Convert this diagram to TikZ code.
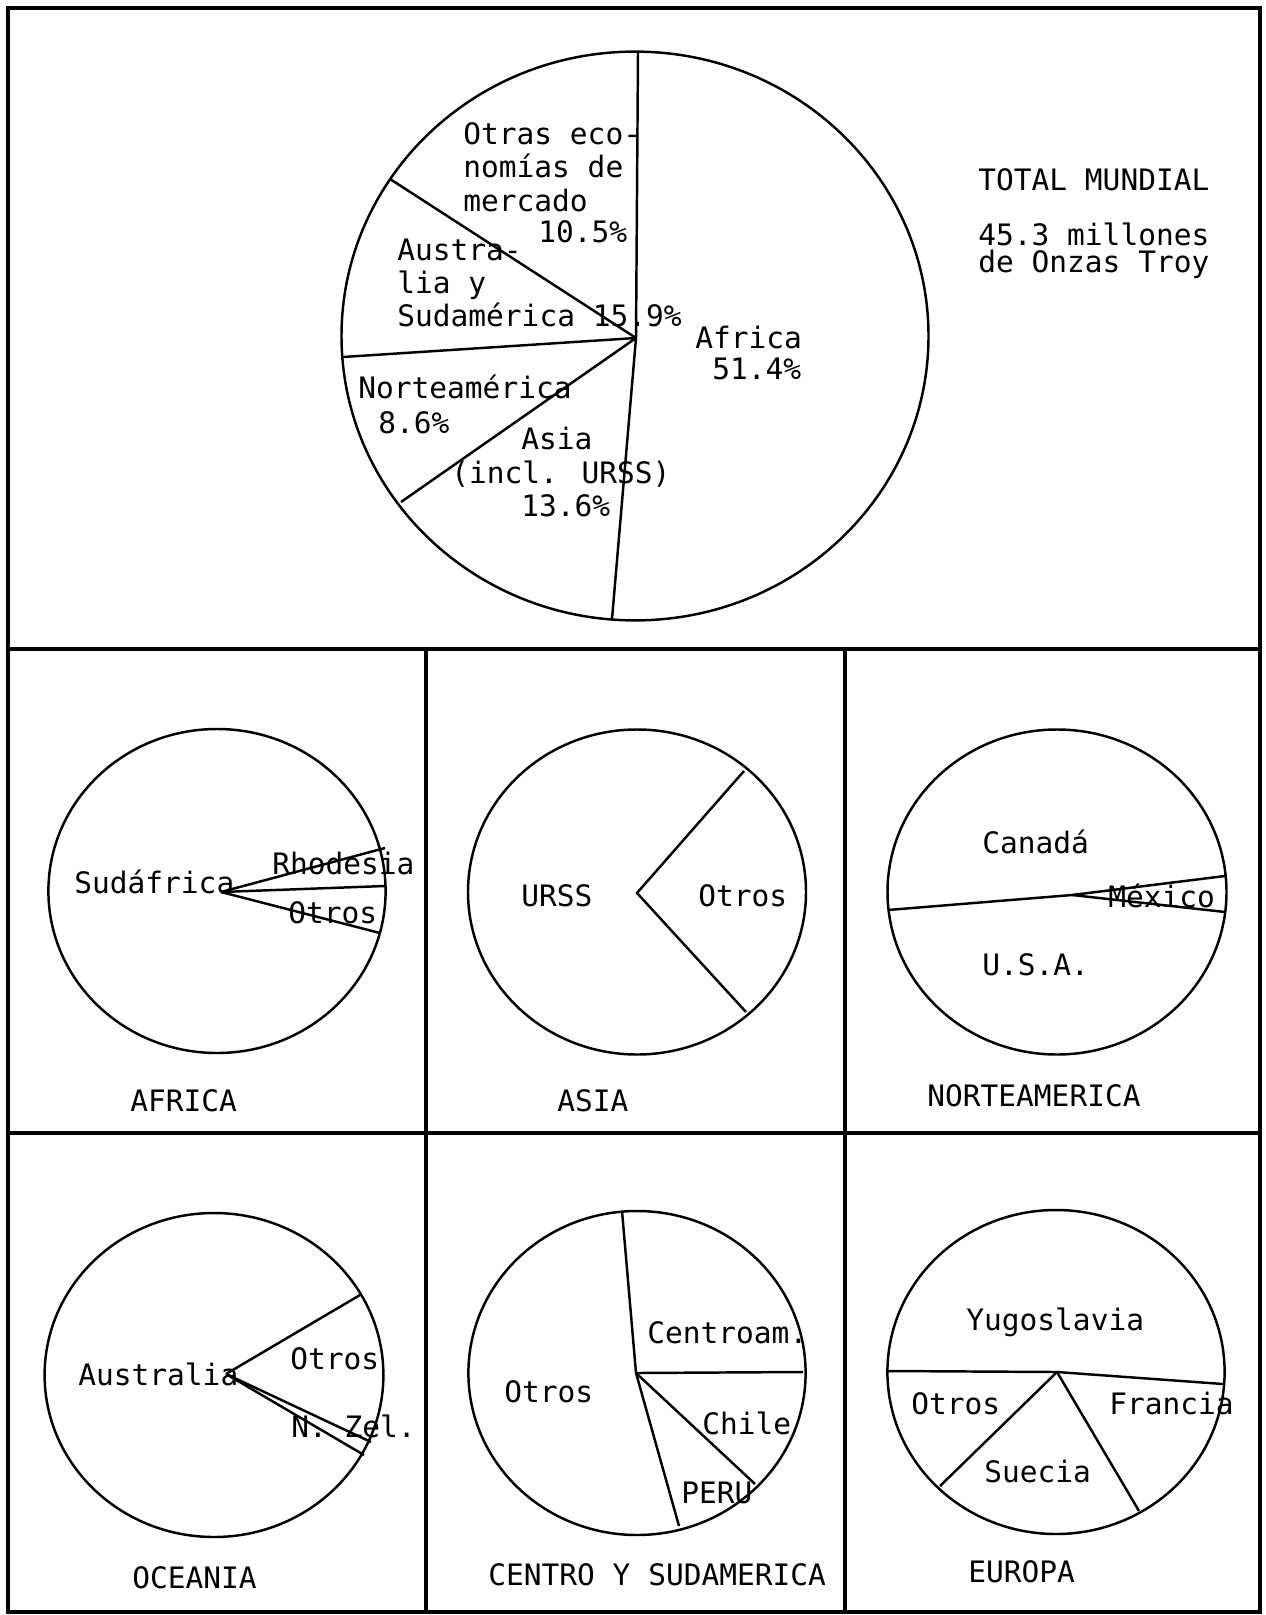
\documentclass[tikz,border=0pt]{standalone}
\usepackage{fontspec}
\setmainfont{DejaVu Sans Mono}
\usetikzlibrary{positioning}

\tikzset{
  frame/.style={line width=2pt},
  pie/.style={line width=1.4pt},
  lbl/.style={anchor=base west, inner sep=0pt, font=\fontsize{16.8}{20}\selectfont}
}

\begin{document}
\begin{tikzpicture}[x=0.02cm, y=-0.02cm]
\useasboundingbox (0,0) rectangle (1265,1615);
% marco y divisiones
\draw[frame] (8,8) rectangle (1260,1612);
\draw[frame] (8,649) -- (1260,649);
\draw[frame] (8,1133) -- (1260,1133);
\draw[frame] (426,649) -- (426,1612);
\draw[frame] (845,649) -- (845,1612);

% total mundial
\coordinate (mundo) at (636,338);
\draw[pie] (635,336) ellipse [x radius=293.5, y radius=284.4];
\foreach \p in {(638,52),(390,179),(343,357),(401,502),(612,619)}
  \draw[pie] (mundo) -- \p;
\node[lbl] (otras1) at (463,145) {Otras eco-};
\node[lbl] (otras2) at (463,178) {nomías de};
\node[lbl] (otras3) at (463,212) {mercado};
\node[lbl] (otras4) at (538,242) {10.5\%};
\node[lbl] (aus1) at (397,260) {Austra-};
\node[lbl] (aus2) at (397,293) {lia y};
\node[lbl] (aus3) at (397,326) {Sudamérica 15.9\%};
\node[lbl] (afr1) at (695,348) {Africa};
\node[lbl] (afr2) at (712,379) {51.4\%};
\node[lbl] (nor1) at (358,398) {Norteamérica};
\node[lbl] (nor2) at (378,433) {8.6\%};
\node[lbl] (asi1) at (521,449) {Asia};
\node[lbl] (asi2) at (451,483) {(incl. URSS)};
\node[lbl] (asi3) at (521,516) {13.6\%};
\node[lbl] (total) at (978,191) {TOTAL MUNDIAL};
\node[lbl] (onzas1) at (978,245) {45.3 millones};
\node[lbl] (onzas2) at (978,272) {de Onzas Troy};

% africa
\coordinate (africa) at (221,892);
\draw[pie] (217,891) ellipse [x radius=168.6, y radius=162];
\foreach \p in {(385,848),(385,886),(380,933)}
  \draw[pie] (africa) -- \p;
\node[lbl] (sudaf) at (74,893) {Sudáfrica};
\node[lbl] (rhod) at (272,874) {Rhodesia};
\node[lbl] (otrosaf) at (288,923) {Otros};
\node[lbl] (tafrica) at (130,1111) {AFRICA};

% asia
\coordinate (asia) at (637,893);
\draw[pie] (637,892) ellipse [x radius=169, y radius=162.5];
\draw[pie] (744,771) -- (asia) -- (746,1012);
\node[lbl] (urss) at (521,906) {URSS};
\node[lbl] (otrosas) at (698,906) {Otros};
\node[lbl] (tasia) at (557,1111) {ASIA};

% norteamerica
\coordinate (norte) at (1072,895);
\draw[pie] (1057,892) ellipse [x radius=169.5, y radius=162.5];
\draw[pie] (888,910) -- (norte) -- (1225,876);
\draw[pie] (norte) -- (1225,912);
\node[lbl] (canada) at (982,853) {Canadá};
\node[lbl] (mexico) at (1108,907) {México};
\node[lbl] (usa) at (982,975) {U.S.A.};
\node[lbl] (tnorte) at (927,1106) {NORTEAMERICA};

% oceania
\coordinate (oceania) at (226,1374);
\draw[pie] (214,1375) ellipse [x radius=169.4, y radius=162];
\foreach \p in {(360,1295),(371,1442),(364,1455)}
  \draw[pie] (oceania) -- \p;
\node[lbl] (austral) at (78,1385) {Australia};
\node[lbl] (otrosoc) at (290,1369) {Otros};
\node[lbl] (nzel) at (291,1437) {N. Zel.};
\node[lbl] (toceania) at (132,1588) {OCEANIA};

% centro y sudamerica
\coordinate (centro) at (636,1373);
\draw[pie] (637,1373) ellipse [x radius=168.6, y radius=162];
\foreach \p in {(622,1211),(803,1372),(755,1484),(679,1526)}
  \draw[pie] (centro) -- \p;
\node[lbl] (centroam) at (647,1343) {Centroam.};
\node[lbl] (otrosce) at (504,1402) {Otros};
\node[lbl] (chile) at (702,1434) {Chile};
\node[lbl] (peru) at (681,1503) {PERU};
\node[lbl] (tcentro) at (488,1585) {CENTRO Y SUDAMERICA};

% europa
\coordinate (europa) at (1057,1372);
\draw[pie] (1056,1372) ellipse [x radius=168.6, y radius=162];
\foreach \p in {(888,1371),(1223,1384),(940,1486),(1139,1511)}
  \draw[pie] (europa) -- \p;
\node[lbl] (yugo) at (966,1330) {Yugoslavia};
\node[lbl] (otroseu) at (911,1414) {Otros};
\node[lbl] (francia) at (1109,1414) {Francia};
\node[lbl] (suecia) at (984,1482) {Suecia};
\node[lbl] (teuropa) at (968,1582) {EUROPA};
\end{tikzpicture}
\end{document}
